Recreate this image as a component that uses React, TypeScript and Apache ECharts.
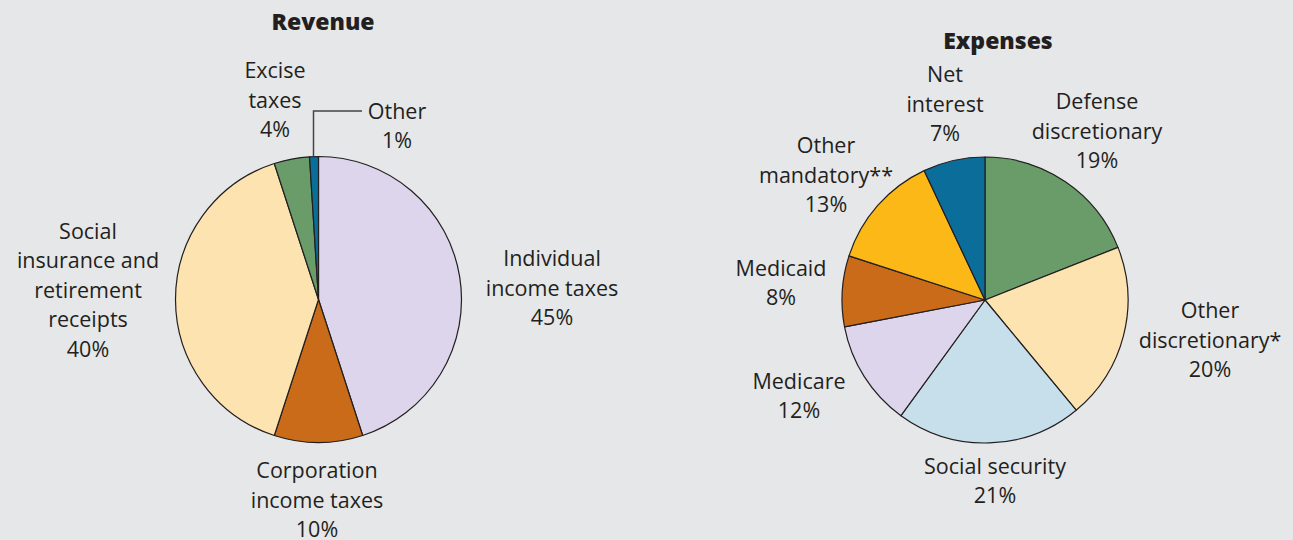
import React, { useEffect, useRef } from "react";
import * as echarts from "echarts";

const revenueNames = [
  "Individual\nincome taxes",
  "Corporation\nincome taxes",
  "Social\ninsurance and\nretirement\nreceipts",
  "Excise\ntaxes",
  "Other",
];
const revenueValues = [45, 10, 40, 4, 1];
const revenueColors = ["#ddd5eb", "#c96b19", "#fde3b0", "#699c69", "#0b6d99"];
const revenueLabelPos = [
  [552, 287],
  [317, 499],
  [88, 289],
  [275, 99],
  [397, 125],
];

const expenseNames = [
  "Defense\ndiscretionary",
  "Other\ndiscretionary*",
  "Social security",
  "Medicare",
  "Medicaid",
  "Other\nmandatory**",
  "Net\ninterest",
];
const expenseValues = [19, 20, 21, 12, 8, 13, 7];
const expenseColors = ["#699c69", "#fde3b0", "#c6dfea", "#ddd5eb", "#c96b19", "#fbb817", "#0b6d99"];
const expenseLabelPos = [
  [1097, 130],
  [1210, 339],
  [995, 480],
  [799, 395],
  [781, 282],
  [826, 174],
  [945, 103],
];

const TEXT = "#231f20";
const FONT = "Open Sans";

function pieSeries(names: string[], values: number[], colors: string[], center: number[], pos: number[][]) {
  return {
    type: "pie",
    center,
    radius: 143,
    startAngle: 90,
    clockwise: true,
    silent: true,
    avoidLabelOverlap: false,
    data: names.map((n, i) => ({
      name: n,
      value: values[i],
      itemStyle: { color: colors[i] },
    })),
    itemStyle: { borderColor: TEXT, borderWidth: 1.2 },
    label: {
      show: true,
      position: "outside",
      formatter: (p: any) => `${p.name}\n${p.value}%`,
      color: TEXT,
      fontFamily: FONT,
      fontSize: 21.5,
      lineHeight: 29.5,
      align: "center",
    },
    labelLine: { show: false },
    labelLayout: (p: any) => ({
      x: pos[p.dataIndex][0],
      y: pos[p.dataIndex][1],
      align: "center",
      verticalAlign: "middle",
    }),
  };
}

export default function App() {
  const ref = useRef<HTMLDivElement>(null);
  useEffect(() => {
    document.body.style.margin = "0";
    const chart = echarts.init(ref.current!, null, { renderer: "svg" });
    chart.setOption({
      animation: false,
      backgroundColor: "#e6e7e9",
      title: [
        {
          text: "Revenue",
          left: 318,
          top: 4,
          textAlign: "center",
          textStyle: { fontFamily: FONT, fontWeight: 900, fontSize: 23, color: TEXT },
        },
        {
          text: "Expenses",
          left: 993,
          top: 23,
          textAlign: "center",
          textStyle: { fontFamily: FONT, fontWeight: 900, fontSize: 23, color: TEXT },
        },
      ],
      graphic: [
        {
          type: "polyline",
          shape: { points: [[313.5, 156], [313.5, 111], [362, 111]] },
          style: { stroke: "#444", lineWidth: 1.5, fill: null },
          z: 10,
        },
      ],
      series: [
        pieSeries(revenueNames, revenueValues, revenueColors, [318.5, 299.5], revenueLabelPos),
        pieSeries(expenseNames, expenseValues, expenseColors, [985, 300], expenseLabelPos),
      ],
    });
    return () => chart.dispose();
  }, []);
  return <div ref={ref} style={{ width: 1293, height: 540 }} />;
}
